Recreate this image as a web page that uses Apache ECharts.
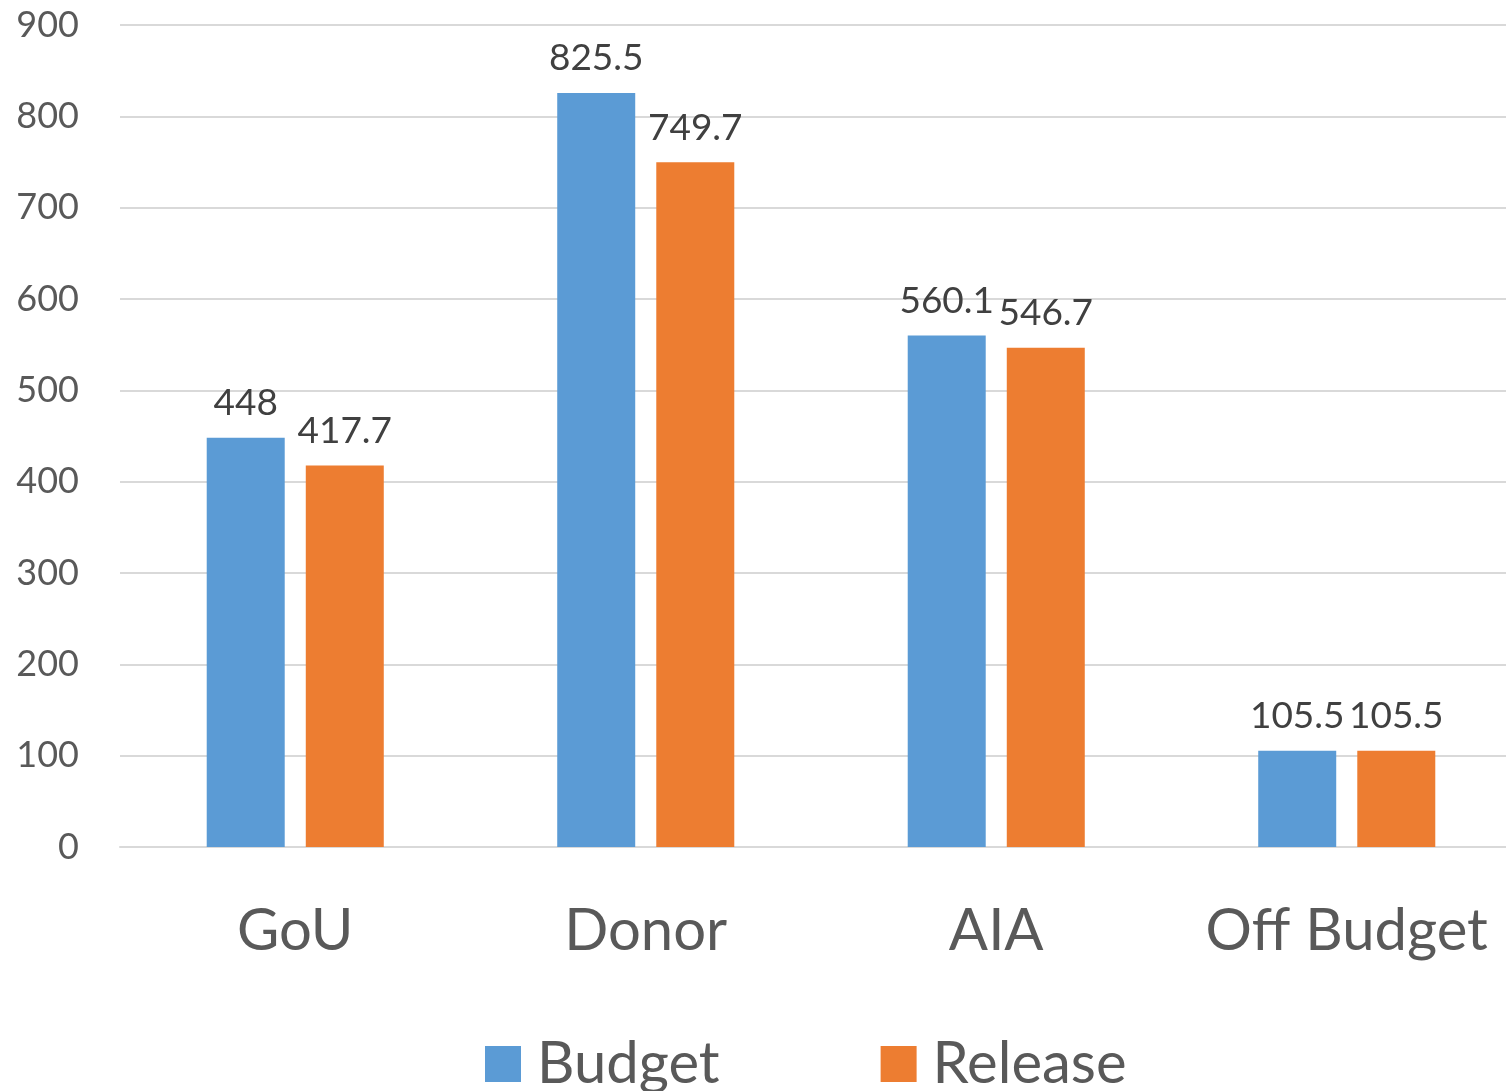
<!DOCTYPE html>
<html>
<head>
<meta charset="utf-8">
<script src="https://cdn.jsdelivr.net/npm/echarts@6/dist/echarts.min.js"></script>
<style>
  html, body { margin: 0; padding: 0; background: #fff; overflow: hidden; }
  #chart { width: 1522px; height: 1091px; }
</style>
</head>
<body>
<div id="chart"></div>
<script>
  const categories = ['GoU', 'Donor', 'AIA', 'Off Budget']
  const budget = [448, 825.5, 560.1, 105.5]
  const release = [417.7, 749.7, 546.7, 105.5]

  const myChart = echarts.init(document.getElementById('chart'))
  const font = 'Lato, "Open Sans", sans-serif'

  const option = {
    animation: false,
    color: ['#5B9BD5', '#ED7D31'],
    grid: { left: 120, right: 0, top: 25, bottom: 244, containLabel: false },
    legend: {
      left: 485,
      bottom: -2,
      padding: 0,
      itemWidth: 36,
      itemHeight: 36,
      itemGap: 161,
      icon: 'rect',
      formatter: name => '{t|' + name + '}',
      textStyle: {
        fontFamily: font, fontSize: 58, color: '#595959',
        rich: { t: { fontFamily: font, fontSize: 58, color: '#595959', padding: [0, 0, 0, 11] } }
      },
      data: ['Budget', 'Release']
    },
    xAxis: {
      type: 'category',
      data: categories,
      axisLine: { lineStyle: { color: '#d9d9d9', width: 2 } },
      axisTick: { show: false },
      axisLabel: { interval: 0, fontFamily: font, fontSize: 58, color: '#595959', margin: 55 }
    },
    yAxis: {
      type: 'value',
      min: 0,
      max: 900,
      interval: 100,
      axisLine: { show: false },
      axisTick: { show: false },
      splitLine: { lineStyle: { color: '#d9d9d9', width: 2 } },
      axisLabel: { fontFamily: font, fontSize: 36, color: '#595959', margin: 41 }
    },
    series: [
      {
        name: 'Budget',
        type: 'bar',
        data: budget,
        barWidth: 78,
        barGap: '27%',
        label: { show: true, position: 'top', distance: 16, fontFamily: font, fontSize: 37, color: '#404040' }
      },
      {
        name: 'Release',
        type: 'bar',
        data: release,
        barWidth: 78,
        barGap: '27%',
        label: { show: true, position: 'top', distance: 16, fontFamily: font, fontSize: 37, color: '#404040' }
      }
    ]
  }
  myChart.setOption(option)
</script>
</body>
</html>
